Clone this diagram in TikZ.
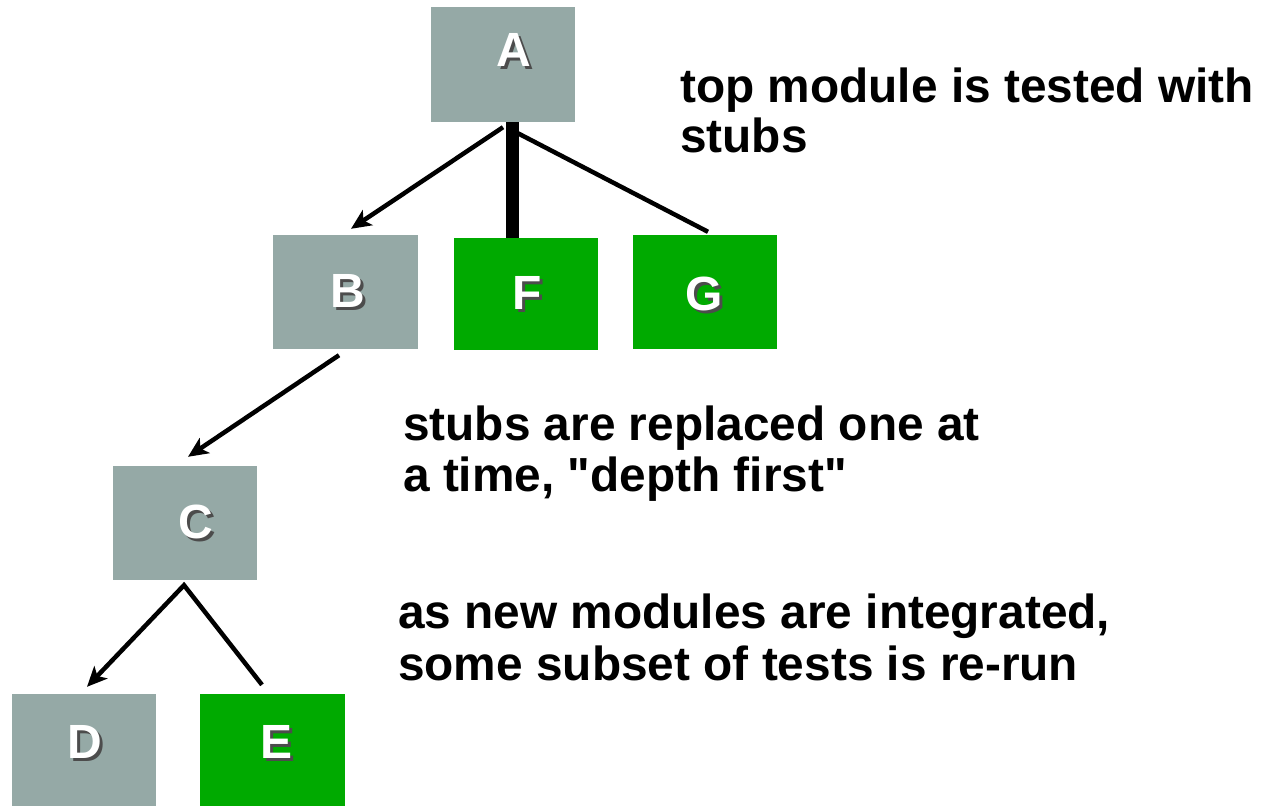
\documentclass[tikz,border=0pt]{standalone}
\usepackage{fontspec}
\setmainfont{Liberation Sans}[Ligatures=TeXOff]
\usetikzlibrary{arrows.meta}
\definecolor{boxgray}{RGB}{149,169,166}
\definecolor{boxgreen}{RGB}{0,170,0}
\newcommand\shletter[1]{\rlap{\kern3pt\raisebox{-3pt}[0pt][0pt]{\textcolor{black!70}{#1}}}\textcolor{white}{#1}}
\tikzset{
  box/.style={rectangle, inner sep=0pt, draw=none},
  graybox/.style={box, fill=boxgray},
  greenbox/.style={box, fill=boxgreen},
  letter/.style={inner sep=0pt, anchor=center, font=\bfseries\fontsize{48}{48}\selectfont},
  note/.style={anchor=base west, align=left, inner sep=0pt},
  conn/.style={line width=4.5pt, draw=black},
  arr/.style={conn, -{Stealth[length=20pt,width=18pt,inset=5pt]}},
}
\begin{document}
\begin{tikzpicture}[x=1pt,y=-1pt]
\useasboundingbox (0,0) rectangle (1264,806);
% boxes
\node[graybox, minimum width=144pt, minimum height=115pt] (A) at (503,64.5) {};
\node[graybox, minimum width=145pt, minimum height=114pt] (B) at (345.5,292) {};
\node[greenbox, minimum width=144pt, minimum height=112pt] (F) at (526,294) {};
\node[greenbox, minimum width=144pt, minimum height=114pt] (G) at (705,292) {};
\node[graybox, minimum width=144pt, minimum height=114pt] (C) at (185,523) {};
\node[graybox, minimum width=144pt, minimum height=112pt] (D) at (84,750) {};
\node[greenbox, minimum width=145pt, minimum height=112pt] (E) at (272.5,750) {};
% letters
\node[letter] (la) at (514,50) {\shletter{A}};
\node[letter] (lb) at (348,291) {\shletter{B}};
\node[letter] (lf) at (527,293) {\shletter{F}};
\node[letter] (lg) at (704,294) {\shletter{G}};
\node[letter] (lc) at (196,522) {\shletter{C}};
\node[letter] (ld) at (85,742) {\shletter{D}};
\node[letter] (le) at (277,742) {\shletter{E}};
% connectors
\draw[arr] ([yshift=-5pt]A.south) -- ([xshift=5.5pt,yshift=6pt]B.north);
\draw[conn] ([xshift=9pt,yshift=-8pt]A.south) -- ([xshift=3pt,yshift=3pt]G.north);
\draw[line width=13pt] ([xshift=9pt]A.south) -- ([xshift=-14pt]F.north);
\draw[arr] ([xshift=-6.5pt,yshift=-6pt]B.south) -- ([xshift=3pt,yshift=9pt]C.north);
\draw[conn, {Stealth[length=20pt,width=18pt,inset=5pt]}-, line join=miter]
  ([xshift=3pt,yshift=7pt]D.north) -- ([xshift=-1pt,yshift=-5pt]C.south) -- ([xshift=-10.5pt,yshift=9pt]E.north);
% notes
\node[note, font=\bfseries\fontsize{47.8}{50}\selectfont] (t1) at (680,152) {top module is tested with\\stubs};
\node[note, font=\bfseries\fontsize{47.8}{51}\selectfont] (t2) at (403,491) {stubs are replaced one at\\a time, "depth first"};
\node[note, font=\bfseries\fontsize{47.8}{52}\selectfont] (t3) at (398,680) {as new modules are integrated,\\some subset of tests is re-run};
\end{tikzpicture}
\end{document}
